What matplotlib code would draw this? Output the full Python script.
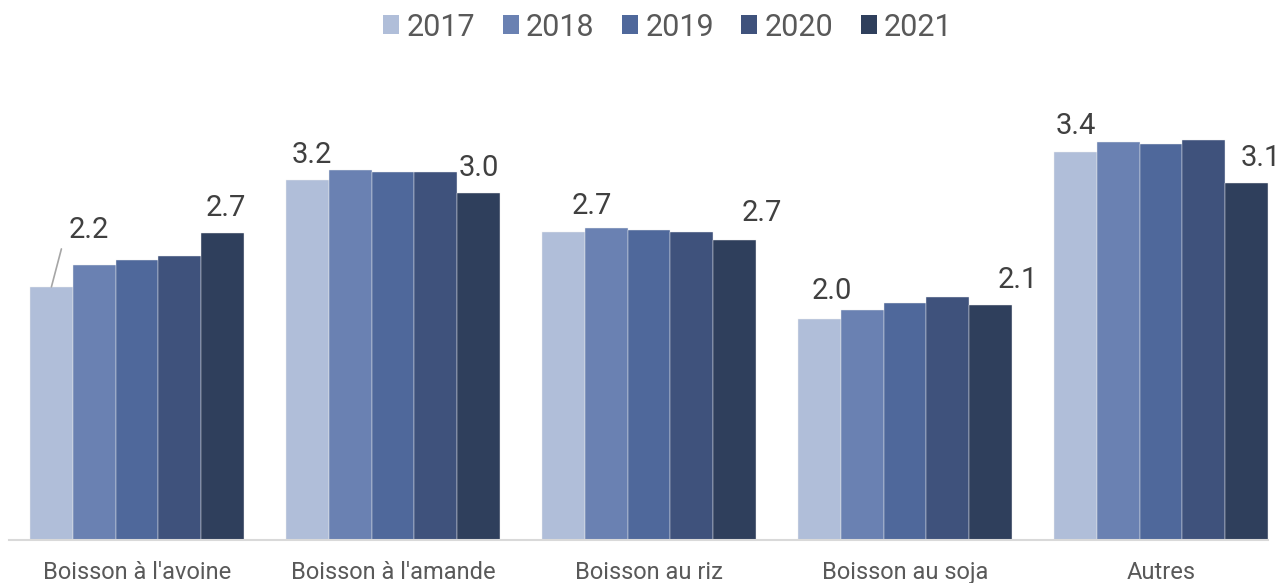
import matplotlib
matplotlib.use("Agg")
import matplotlib.pyplot as plt
from matplotlib.patches import Patch
import numpy as np

categories = ["Boisson à l'avoine", "Boisson à l'amande", "Boisson au riz", "Boisson au soja", "Autres"]
years = ["2017", "2018", "2019", "2020", "2021"]
values = {
    "2017": [2.22, 3.16, 2.70, 1.94, 3.40],
    "2018": [2.41, 3.25, 2.74, 2.02, 3.49],
    "2019": [2.46, 3.23, 2.72, 2.08, 3.47],
    "2020": [2.49, 3.23, 2.70, 2.13, 3.51],
    "2021": [2.69, 3.04, 2.63, 2.06, 3.13],
}
labels_2017 = ["2.2", "3.2", "2.7", "2.0", "3.4"]
labels_2021 = ["2.7", "3.0", "2.7", "2.1", "3.1"]

colors = ["#B0BED9", "#6A81B2", "#4F689B", "#3F527C", "#2F3F5C"]

plt.rcParams['font.family'] = ['Roboto', 'DejaVu Sans']

W, H = 1288, 583
fig = plt.figure(figsize=(W / 100, H / 100), dpi=100)
ax = fig.add_axes([9 / W, 43 / H, 1280 / W, 456 / H])

x = np.arange(len(categories))
bw = 42.8 / 256
for i, yr in enumerate(years):
    ax.bar(x + (i - 2) * bw, values[yr], width=bw, color=colors[i],
           edgecolor='#F0F0F0', linewidth=0.3, zorder=2)

ax.set_xlim(-0.5, len(categories) - 0.5)
ax.set_ylim(0, 4.0)

# label offsets in pixels (dx, dy of baseline relative to bar top center)
off_2017 = [(37.6, 48.5), (4.3, 17.2), (28.4, 17.9), (12.6, 19.5), (0.4, 18.5)]
off_2021 = [(3.4, 17.5), (0, 17.5), (27, 19.5), (27, 17.5), (14, 17.1)]
lab_color = '#404040'
for k in range(len(categories)):
    for yr, labs, offs in (("2017", labels_2017, off_2017), ("2021", labels_2021, off_2021)):
        i = years.index(yr)
        xc = x[k] + (i - 2) * bw
        v = values[yr][k]
        ax.annotate(labs[k], xy=(xc, v), xytext=offs[k], textcoords='offset pixels',
                    ha='center', va='baseline', fontsize=21, color=lab_color)

# leader line for first label
xc0 = x[0] - 2 * bw
ax.annotate('', xy=(xc0, values["2017"][0]), xytext=(10, 38), textcoords='offset pixels',
            arrowprops=dict(arrowstyle='-', color='#A6A6A6', lw=1.2, shrinkA=0, shrinkB=0))

for s in ['top', 'right', 'left']:
    ax.spines[s].set_visible(False)
ax.spines['bottom'].set_color('#D9D9D9')
ax.spines['bottom'].set_linewidth(1.5)
ax.spines['bottom'].set_bounds(-0.5, x[-1] + 2.5 * bw)
ax.set_yticks([])
ax.set_xticks(x)
ax.set_xticklabels(categories, fontsize=17, color='#595959')
ax.tick_params(axis='x', length=0, pad=15)

handles = [Patch(facecolor=c, edgecolor='none', label=y) for c, y in zip(colors, years)]
fig.legend(handles=handles, loc='center', bbox_to_anchor=(668 / W, 1 - 27 / H), ncol=5,
           frameon=False, fontsize=22, handlelength=0.52, handleheight=0.56,
           handletextpad=0.24, columnspacing=0.9, labelcolor='#595959', borderpad=0)

fig.savefig("out.png", dpi=100)
